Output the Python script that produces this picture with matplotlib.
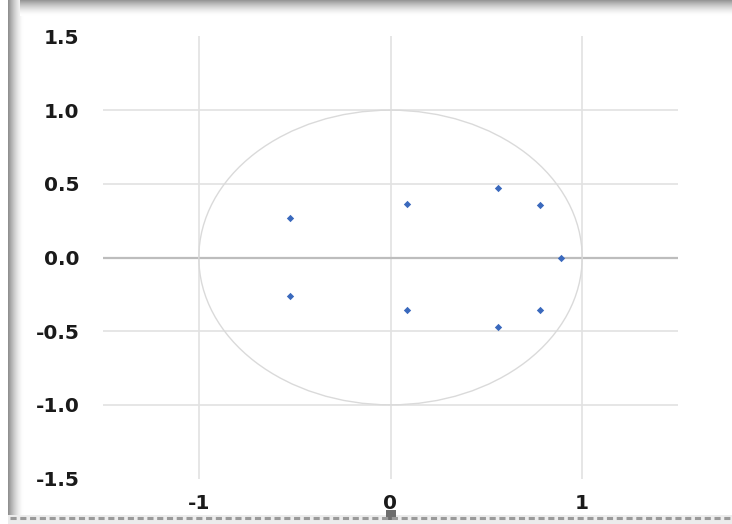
import matplotlib.pyplot as plt
from matplotlib.patches import Circle, Rectangle
import numpy as np

pole_re = [-0.526, -0.526, 0.087, 0.087, 0.562, 0.562, 0.779, 0.779, 0.889]
pole_im = [0.267, -0.264, 0.363, -0.359, 0.474, -0.469, 0.355, -0.355, 0.0]

x_ticks = [-1, 0, 1]
y_ticks = [-1.5, -1.0, -0.5, 0.0, 0.5, 1.0, 1.5]
y_grid = [-1.0, -0.5, 0.5, 1.0]

W, H = 732, 524
fig = plt.figure(figsize=(W / 100, H / 100), dpi=100)
fig.patch.set_facecolor('white')

# window shadow / frame decoration in pixel coordinates
bg = fig.add_axes([0, 0, 1, 1], zorder=-5)
bg.set_xlim(0, W)
bg.set_ylim(H, 0)
bg.axis('off')
left = (1 - 0.45 * np.linspace(1, 0, 40) ** 1.6)[None, :]
bg.imshow(left, cmap='gray', vmin=0, vmax=1, extent=(8, 24, H, 0), aspect='auto')
top = (1 - 0.42 * np.linspace(1, 0, 40) ** 1.6)[:, None]
bg.imshow(top, cmap='gray', vmin=0, vmax=1, extent=(20, W, 16, 0), aspect='auto')
bg.add_patch(Rectangle((8, 515), W - 8, 9, color='#ececec', lw=0))
bg.plot([10, W], [518, 518], color='#9a9a9a', lw=2.2, ls=(0, (2, 1.2)))
bg.add_patch(Rectangle((386, 510), 10, 10, color='#6e6e6e', lw=0))

ax = fig.add_axes([103 / W, (H - 478.5) / H, 575 / W, 442 / H])
ax.set_xlim(-1.5, 1.5)
ax.set_ylim(-1.5, 1.5)
for s in ax.spines.values():
    s.set_visible(False)

for xv in x_ticks:
    ax.axvline(xv, color='#e2e2e2', lw=1.2, zorder=1)
for yv in y_grid:
    ax.axhline(yv, color='#e2e2e2', lw=1.2, zorder=1)
ax.axhline(0, color='#bdbdbd', lw=1.6, zorder=2)

ax.add_patch(Circle((0, 0), 1, fill=False, ec='#dadada', lw=1.0, zorder=2))

ax.scatter(pole_re, pole_im, marker='D', s=14, color='#3a69bd', lw=0, zorder=4)

ax.set_xticks(x_ticks)
ax.set_xticklabels([str(v) for v in x_ticks])
ax.set_yticks(y_ticks)
ax.set_yticklabels(['%.1f' % v for v in y_ticks])
ax.tick_params(axis='both', length=0, labelsize=14.5, colors='#1a1a1a')
ax.tick_params(axis='x', pad=11)
ax.tick_params(axis='y', pad=17)
for lab in ax.get_xticklabels() + ax.get_yticklabels():
    lab.set_fontweight('bold')
    lab.set_family('DejaVu Sans')

fig.savefig('out.png', dpi=100)
